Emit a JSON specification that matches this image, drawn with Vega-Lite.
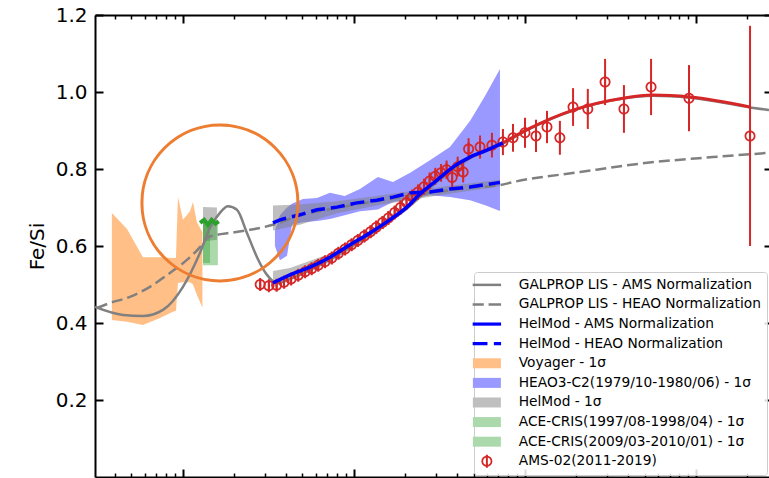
{
  "$schema": "https://vega.github.io/schema/vega-lite/v6.json",
  "width": 674,
  "height": 462,
  "autosize": {"type": "none"},
  "padding": {"left": 95, "top": 15, "right": 0, "bottom": 1},
  "config": {"view": {"stroke": null}, "font": "DejaVu Sans", "axis": {"grid": false}},
  "resolve": {"axis": {"x": "independent", "y": "independent"}},
  "layer": [
    {
      "data": {"values": [
        {"R": 0.384, "lo": 0.408, "hi": 0.686},
        {"R": 0.471, "lo": 0.403, "hi": 0.644},
        {"R": 0.583, "lo": 0.395, "hi": 0.571},
        {"R": 0.734, "lo": 0.413, "hi": 0.571},
        {"R": 0.874, "lo": 0.429, "hi": 0.569},
        {"R": 0.91, "lo": 0.432, "hi": 0.569},
        {"R": 0.935, "lo": 0.504, "hi": 0.727},
        {"R": 1.0, "lo": 0.506, "hi": 0.668},
        {"R": 1.1, "lo": 0.506, "hi": 0.69},
        {"R": 1.144, "lo": 0.5, "hi": 0.714},
        {"R": 1.207, "lo": 0.473, "hi": 0.662},
        {"R": 1.3, "lo": 0.44, "hi": 0.636}
      ]},
      "mark": {"type": "area", "color": "#ff7f0e", "opacity": 0.5, "clip": true},
      "encoding": {
        "x": {"field": "R", "type": "quantitative", "scale": {"type": "log", "domain": [0.306, 2672], "nice": false}, "axis": null},
        "y": {"field": "lo", "type": "quantitative", "scale": {"domain": [0, 1.2], "nice": false, "zero": false}, "axis": null},
        "y2": {"field": "hi"}
      }
    },
    {
      "data": {"values": [
        {"R": 3.45, "lo": 0.6, "hi": 0.64},
        {"R": 3.69, "lo": 0.563, "hi": 0.68},
        {"R": 4.06, "lo": 0.575, "hi": 0.7},
        {"R": 4.34, "lo": 0.655, "hi": 0.71},
        {"R": 5.03, "lo": 0.662, "hi": 0.722},
        {"R": 6.08, "lo": 0.665, "hi": 0.725},
        {"R": 7.24, "lo": 0.67, "hi": 0.738},
        {"R": 8.83, "lo": 0.68, "hi": 0.73},
        {"R": 10.83, "lo": 0.69, "hi": 0.748},
        {"R": 13.8, "lo": 0.695, "hi": 0.779},
        {"R": 16.9, "lo": 0.714, "hi": 0.766},
        {"R": 21.3, "lo": 0.722, "hi": 0.79},
        {"R": 27.8, "lo": 0.732, "hi": 0.823},
        {"R": 36.4, "lo": 0.727, "hi": 0.857},
        {"R": 47.7, "lo": 0.719, "hi": 0.925},
        {"R": 58.5, "lo": 0.706, "hi": 0.99},
        {"R": 71.4, "lo": 0.691, "hi": 1.06}
      ]},
      "mark": {"type": "area", "color": "#0000ff", "opacity": 0.4, "clip": true},
      "encoding": {
        "x": {"field": "R", "type": "quantitative", "scale": {"type": "log", "domain": [0.306, 2672], "nice": false}, "axis": null},
        "y": {"field": "lo", "type": "quantitative", "scale": {"domain": [0, 1.2], "nice": false, "zero": false}, "axis": null},
        "y2": {"field": "hi"}
      }
    },
    {
      "data": {"values": [
        {"part": "ace", "R": 1.31, "lo": 0.612, "hi": 0.701},
        {"part": "ace", "R": 1.58, "lo": 0.616, "hi": 0.7},
        {"part": "heao", "R": 3.36, "lo": 0.64, "hi": 0.705},
        {"part": "heao", "R": 4.83, "lo": 0.655, "hi": 0.708},
        {"part": "heao", "R": 7.95, "lo": 0.685, "hi": 0.716},
        {"part": "heao", "R": 13.6, "lo": 0.705, "hi": 0.73},
        {"part": "heao", "R": 27.8, "lo": 0.728, "hi": 0.75},
        {"part": "heao", "R": 71.4, "lo": 0.755, "hi": 0.772},
        {"part": "ams", "R": 3.36, "lo": 0.493, "hi": 0.535},
        {"part": "ams", "R": 4.22, "lo": 0.51, "hi": 0.543},
        {"part": "ams", "R": 7.24, "lo": 0.558, "hi": 0.58},
        {"part": "ams", "R": 12.4, "lo": 0.622, "hi": 0.64},
        {"part": "ams", "R": 20.4, "lo": 0.692, "hi": 0.708},
        {"part": "ams", "R": 30.6, "lo": 0.762, "hi": 0.776},
        {"part": "ams", "R": 47.7, "lo": 0.824, "hi": 0.836},
        {"part": "ams", "R": 74.3, "lo": 0.862, "hi": 0.874}
      ]},
      "mark": {"type": "area", "color": "#808080", "opacity": 0.5, "clip": true},
      "encoding": {
        "x": {"field": "R", "type": "quantitative", "scale": {"type": "log", "domain": [0.306, 2672], "nice": false}, "axis": null},
        "y": {"field": "lo", "type": "quantitative", "scale": {"domain": [0, 1.2], "nice": false, "zero": false}, "axis": null},
        "y2": {"field": "hi"},
        "detail": {"field": "part"}
      }
    },
    {
      "data": {"values": [
        {"part": "a", "R": 1.31, "lo": 0.556, "hi": 0.665},
        {"part": "a", "R": 1.44, "lo": 0.556, "hi": 0.665},
        {"part": "b", "R": 1.31, "lo": 0.55, "hi": 0.66},
        {"part": "b", "R": 1.6, "lo": 0.55, "hi": 0.66}
      ]},
      "mark": {"type": "area", "color": "#2ca02c", "opacity": 0.4, "clip": true},
      "encoding": {
        "x": {"field": "R", "type": "quantitative", "scale": {"type": "log", "domain": [0.306, 2672], "nice": false}, "axis": null},
        "y": {"field": "lo", "type": "quantitative", "scale": {"domain": [0, 1.2], "nice": false, "zero": false}, "axis": null},
        "y2": {"field": "hi"},
        "detail": {"field": "part"}
      }
    },
    {
      "data": {"values": [
        {"R": 0.306, "v": 0.442}, {"R": 0.446, "v": 0.421}, {"R": 0.583, "v": 0.418},
        {"R": 0.764, "v": 0.434}, {"R": 1.0, "v": 0.494}, {"R": 1.257, "v": 0.582},
        {"R": 1.438, "v": 0.647}, {"R": 1.645, "v": 0.686}, {"R": 1.833, "v": 0.703},
        {"R": 2.068, "v": 0.694}, {"R": 2.367, "v": 0.634}, {"R": 2.71, "v": 0.571},
        {"R": 3.1, "v": 0.525}, {"R": 3.54, "v": 0.504}, {"R": 4.22, "v": 0.515},
        {"R": 7.24, "v": 0.565}, {"R": 12.4, "v": 0.63}, {"R": 20.4, "v": 0.698},
        {"R": 30.6, "v": 0.768}, {"R": 47.7, "v": 0.829}, {"R": 74.3, "v": 0.866},
        {"R": 107, "v": 0.905}, {"R": 191, "v": 0.952}, {"R": 374, "v": 0.983},
        {"R": 561, "v": 0.99}, {"R": 922, "v": 0.985}, {"R": 2070, "v": 0.96},
        {"R": 2672, "v": 0.953}
      ]},
      "mark": {"type": "line", "color": "#808080", "strokeWidth": 2.5, "interpolate": "monotone", "clip": true},
      "encoding": {
        "x": {"field": "R", "type": "quantitative", "scale": {"type": "log", "domain": [0.306, 2672], "nice": false}, "axis": null},
        "y": {"field": "v", "type": "quantitative", "scale": {"domain": [0, 1.2], "nice": false, "zero": false}, "axis": null}
      }
    },
    {
      "data": {"values": [
        {"R": 0.314, "v": 0.439}, {"R": 0.374, "v": 0.452}, {"R": 0.49, "v": 0.468},
        {"R": 0.641, "v": 0.494}, {"R": 0.839, "v": 0.53}, {"R": 1.055, "v": 0.564},
        {"R": 1.257, "v": 0.597}, {"R": 1.381, "v": 0.621}, {"R": 1.58, "v": 0.629},
        {"R": 1.88, "v": 0.634}, {"R": 2.47, "v": 0.642}, {"R": 3.36, "v": 0.655},
        {"R": 4.83, "v": 0.679}, {"R": 7.95, "v": 0.699}, {"R": 13.6, "v": 0.717},
        {"R": 27.8, "v": 0.738}, {"R": 47.7, "v": 0.751}, {"R": 71.4, "v": 0.758},
        {"R": 85.1, "v": 0.766}, {"R": 210, "v": 0.792}, {"R": 517, "v": 0.816},
        {"R": 1257, "v": 0.831}, {"R": 2672, "v": 0.842}
      ]},
      "mark": {"type": "line", "color": "#808080", "strokeWidth": 2.5, "strokeDash": [11, 5], "interpolate": "monotone", "clip": true},
      "encoding": {
        "x": {"field": "R", "type": "quantitative", "scale": {"type": "log", "domain": [0.306, 2672], "nice": false}, "axis": null},
        "y": {"field": "v", "type": "quantitative", "scale": {"domain": [0, 1.2], "nice": false, "zero": false}, "axis": null}
      }
    },
    {
      "data": {"values": [
        {"R": 2.83, "lo": 0.488, "hi": 0.512}, {"R": 3.18, "lo": 0.485, "hi": 0.509},
        {"R": 3.53, "lo": 0.486, "hi": 0.51}, {"R": 3.9, "lo": 0.494, "hi": 0.518},
        {"R": 4.29, "lo": 0.502, "hi": 0.526}, {"R": 4.72, "lo": 0.511, "hi": 0.537},
        {"R": 5.18, "lo": 0.52, "hi": 0.546}, {"R": 5.66, "lo": 0.528, "hi": 0.554},
        {"R": 6.18, "lo": 0.537, "hi": 0.563}, {"R": 6.77, "lo": 0.545, "hi": 0.573},
        {"R": 7.42, "lo": 0.555, "hi": 0.583}, {"R": 8.11, "lo": 0.567, "hi": 0.595},
        {"R": 8.87, "lo": 0.577, "hi": 0.607}, {"R": 9.68, "lo": 0.588, "hi": 0.618},
        {"R": 10.54, "lo": 0.599, "hi": 0.629}, {"R": 11.5, "lo": 0.61, "hi": 0.642},
        {"R": 12.5, "lo": 0.621, "hi": 0.653}, {"R": 13.5, "lo": 0.632, "hi": 0.666},
        {"R": 14.7, "lo": 0.644, "hi": 0.678}, {"R": 15.9, "lo": 0.655, "hi": 0.691},
        {"R": 17.3, "lo": 0.669, "hi": 0.705}, {"R": 18.7, "lo": 0.681, "hi": 0.719},
        {"R": 20.3, "lo": 0.694, "hi": 0.732}, {"R": 21.9, "lo": 0.707, "hi": 0.747},
        {"R": 23.7, "lo": 0.72, "hi": 0.76}, {"R": 25.7, "lo": 0.733, "hi": 0.775},
        {"R": 27.7, "lo": 0.747, "hi": 0.791}, {"R": 29.9, "lo": 0.759, "hi": 0.803},
        {"R": 32.3, "lo": 0.767, "hi": 0.813}, {"R": 34.8, "lo": 0.774, "hi": 0.822},
        {"R": 37.5, "lo": 0.753, "hi": 0.803}, {"R": 40.4, "lo": 0.78, "hi": 0.832},
        {"R": 43.5, "lo": 0.765, "hi": 0.819}, {"R": 46.8, "lo": 0.824, "hi": 0.88},
        {"R": 54.6, "lo": 0.827, "hi": 0.887}, {"R": 64.1, "lo": 0.83, "hi": 0.894},
        {"R": 74.3, "lo": 0.836, "hi": 0.904}, {"R": 85.1, "lo": 0.845, "hi": 0.917},
        {"R": 100, "lo": 0.855, "hi": 0.933}, {"R": 116, "lo": 0.844, "hi": 0.928},
        {"R": 134.5, "lo": 0.867, "hi": 0.951}, {"R": 160, "lo": 0.837, "hi": 0.925},
        {"R": 191, "lo": 0.912, "hi": 1.01}, {"R": 233, "lo": 0.904, "hi": 1.008},
        {"R": 294, "lo": 0.966, "hi": 1.086}, {"R": 379, "lo": 0.894, "hi": 1.018},
        {"R": 546, "lo": 0.94, "hi": 1.086}, {"R": 910, "lo": 0.898, "hi": 1.07},
        {"R": 2070, "lo": 0.6, "hi": 1.172}
      ]},
      "mark": {"type": "rule", "color": "#d62728", "strokeWidth": 2, "clip": true},
      "encoding": {
        "x": {"field": "R", "type": "quantitative", "scale": {"type": "log", "domain": [0.306, 2672], "nice": false},
          "axis": {"orient": "bottom", "title": null, "labels": false, "grid": false,
            "values": [0.4, 0.5, 0.6, 0.7, 0.8, 0.9, 1, 2, 3, 4, 5, 6, 7, 8, 9, 10, 20, 30, 40, 50, 60, 70, 80, 90, 100, 200, 300, 400, 500, 600, 700, 800, 900, 1000, 2000],
            "domainColor": "#000000", "domainWidth": 2, "tickColor": "#000000",
            "tickSize": {"condition": {"test": "indexof([1,10,100,1000], datum.value) >= 0", "value": -8}, "value": -4},
            "tickWidth": {"condition": {"test": "indexof([1,10,100,1000], datum.value) >= 0", "value": 2}, "value": 1.5}}},
        "y": {"field": "lo", "type": "quantitative", "scale": {"domain": [0, 1.2], "nice": false, "zero": false},
          "axis": {"orient": "left", "values": [0.2, 0.4, 0.6, 0.8, 1.0, 1.2], "format": ".1f", "grid": false,
            "labelFont": "DejaVu Sans", "labelFontSize": 20, "labelColor": "#000000", "labelPadding": 16,
            "tickSize": -8, "tickWidth": 2, "tickColor": "#000000", "domainColor": "#000000", "domainWidth": 2,
            "title": "Fe/Si", "titleFont": "DejaVu Sans", "titleFontSize": 20, "titleFontWeight": "normal", "titleColor": "#000000", "titlePadding": 8}},
        "y2": {"field": "hi"}
      }
    },
    {
      "data": {"values": [
        {"series": "AMS-02(2011-2019)", "R": 2.83, "v": 0.5}, {"series": "AMS-02(2011-2019)", "R": 3.18, "v": 0.497},
        {"series": "AMS-02(2011-2019)", "R": 3.53, "v": 0.498}, {"series": "AMS-02(2011-2019)", "R": 3.9, "v": 0.506},
        {"series": "AMS-02(2011-2019)", "R": 4.29, "v": 0.514}, {"series": "AMS-02(2011-2019)", "R": 4.72, "v": 0.524},
        {"series": "AMS-02(2011-2019)", "R": 5.18, "v": 0.533}, {"series": "AMS-02(2011-2019)", "R": 5.66, "v": 0.541},
        {"series": "AMS-02(2011-2019)", "R": 6.18, "v": 0.55}, {"series": "AMS-02(2011-2019)", "R": 6.77, "v": 0.559},
        {"series": "AMS-02(2011-2019)", "R": 7.42, "v": 0.569}, {"series": "AMS-02(2011-2019)", "R": 8.11, "v": 0.581},
        {"series": "AMS-02(2011-2019)", "R": 8.87, "v": 0.592}, {"series": "AMS-02(2011-2019)", "R": 9.68, "v": 0.603},
        {"series": "AMS-02(2011-2019)", "R": 10.54, "v": 0.614}, {"series": "AMS-02(2011-2019)", "R": 11.5, "v": 0.626},
        {"series": "AMS-02(2011-2019)", "R": 12.5, "v": 0.637}, {"series": "AMS-02(2011-2019)", "R": 13.5, "v": 0.649},
        {"series": "AMS-02(2011-2019)", "R": 14.7, "v": 0.661}, {"series": "AMS-02(2011-2019)", "R": 15.9, "v": 0.673},
        {"series": "AMS-02(2011-2019)", "R": 17.3, "v": 0.687}, {"series": "AMS-02(2011-2019)", "R": 18.7, "v": 0.7},
        {"series": "AMS-02(2011-2019)", "R": 20.3, "v": 0.713}, {"series": "AMS-02(2011-2019)", "R": 21.9, "v": 0.727},
        {"series": "AMS-02(2011-2019)", "R": 23.7, "v": 0.74}, {"series": "AMS-02(2011-2019)", "R": 25.7, "v": 0.754},
        {"series": "AMS-02(2011-2019)", "R": 27.7, "v": 0.769}, {"series": "AMS-02(2011-2019)", "R": 29.9, "v": 0.781},
        {"series": "AMS-02(2011-2019)", "R": 32.3, "v": 0.79}, {"series": "AMS-02(2011-2019)", "R": 34.8, "v": 0.798},
        {"series": "AMS-02(2011-2019)", "R": 37.5, "v": 0.778}, {"series": "AMS-02(2011-2019)", "R": 40.4, "v": 0.806},
        {"series": "AMS-02(2011-2019)", "R": 43.5, "v": 0.792}, {"series": "AMS-02(2011-2019)", "R": 46.8, "v": 0.852},
        {"series": "AMS-02(2011-2019)", "R": 54.6, "v": 0.857}, {"series": "AMS-02(2011-2019)", "R": 64.1, "v": 0.862},
        {"series": "AMS-02(2011-2019)", "R": 74.3, "v": 0.87}, {"series": "AMS-02(2011-2019)", "R": 85.1, "v": 0.881},
        {"series": "AMS-02(2011-2019)", "R": 100, "v": 0.894}, {"series": "AMS-02(2011-2019)", "R": 116, "v": 0.886},
        {"series": "AMS-02(2011-2019)", "R": 134.5, "v": 0.909}, {"series": "AMS-02(2011-2019)", "R": 160, "v": 0.881},
        {"series": "AMS-02(2011-2019)", "R": 191, "v": 0.961}, {"series": "AMS-02(2011-2019)", "R": 233, "v": 0.956},
        {"series": "AMS-02(2011-2019)", "R": 294, "v": 1.026}, {"series": "AMS-02(2011-2019)", "R": 379, "v": 0.956},
        {"series": "AMS-02(2011-2019)", "R": 546, "v": 1.013}, {"series": "AMS-02(2011-2019)", "R": 910, "v": 0.984},
        {"series": "AMS-02(2011-2019)", "R": 2070, "v": 0.886}
      ]},
      "mark": {"type": "point", "filled": true, "size": 100, "opacity": 1, "strokeWidth": 0, "clip": true},
      "encoding": {
        "x": {"field": "R", "type": "quantitative", "scale": {"type": "log", "domain": [0.306, 2672], "nice": false},
          "axis": {"orient": "top", "title": null, "labels": false, "grid": false,
            "values": [0.4, 0.5, 0.6, 0.7, 0.8, 0.9, 1, 2, 3, 4, 5, 6, 7, 8, 9, 10, 20, 30, 40, 50, 60, 70, 80, 90, 100, 200, 300, 400, 500, 600, 700, 800, 900, 1000, 2000],
            "domainColor": "#000000", "domainWidth": 2, "tickColor": "#000000",
            "tickSize": {"condition": {"test": "indexof([1,10,100,1000], datum.value) >= 0", "value": -8}, "value": -4},
            "tickWidth": {"condition": {"test": "indexof([1,10,100,1000], datum.value) >= 0", "value": 2}, "value": 1.5}}},
        "y": {"field": "v", "type": "quantitative", "scale": {"domain": [0, 1.2], "nice": false, "zero": false},
          "axis": {"orient": "right", "values": [0.2, 0.4, 0.6, 0.8, 1.0, 1.2], "labels": false, "title": null, "grid": false,
            "domain": false, "tickSize": -5, "tickWidth": 2, "tickColor": "#000000"}},
        "color": {"field": "series", "type": "nominal",
          "scale": {"domain": ["GALPROP LIS - AMS Normalization", "GALPROP LIS - HEAO Normalization", "HelMod - AMS Normalization", "HelMod - HEAO Normalization", "Voyager - 1σ", "HEAO3-C2(1979/10-1980/06) - 1σ", "HelMod - 1σ", "ACE-CRIS(1997/08-1998/04) - 1σ", "ACE-CRIS(2009/03-2010/01) - 1σ", "AMS-02(2011-2019)"],
            "range": ["#808080", "#808080", "#0000ff", "#0000ff", "#ffbf87", "#9999ff", "#bfbfbf", "#abd9ab", "#abd9ab", "#d62728"]},
          "legend": {"title": null, "orient": "none", "legendX": 379, "legendY": 257, "padding": 6, "fillColor": "rgba(255,255,255,0.85)", "strokeColor": "#cccccc", "cornerRadius": 3,
            "labelFont": "DejaVu Sans", "labelFontSize": 13.75, "labelColor": "#000000", "labelLimit": 400, "labelOffset": 25,
            "symbolSize": 100, "symbolStrokeWidth": 0, "symbolOpacity": 1, "rowPadding": 4.6}},
        "shape": {"field": "series", "type": "nominal",
          "scale": {"domain": ["GALPROP LIS - AMS Normalization", "GALPROP LIS - HEAO Normalization", "HelMod - AMS Normalization", "HelMod - HEAO Normalization", "Voyager - 1σ", "HEAO3-C2(1979/10-1980/06) - 1σ", "HelMod - 1σ", "ACE-CRIS(1997/08-1998/04) - 1σ", "ACE-CRIS(2009/03-2010/01) - 1σ", "AMS-02(2011-2019)"],
            "range": [
              "M-2.84,-0.25H2.84V0.25H-2.84Z",
              "M-2.84,-0.25H-0.62V0.25H-2.84Z M0.34,-0.25H2.84V0.25H0.34Z",
              "M-2.84,-0.32H2.84V0.32H-2.84Z",
              "M-2.84,-0.32H0.12V0.32H-2.84Z M1.4,-0.32H2.84V0.32H1.4Z",
              "M-2.8,-1H2.8V1H-2.8Z",
              "M-2.8,-1H2.8V1H-2.8Z",
              "M-2.8,-1H2.8V1H-2.8Z",
              "M-2.8,-1H2.8V1H-2.8Z",
              "M-2.8,-1H2.8V1H-2.8Z",
              "M0,-1.1A1.1,1.1 0 1,1 0,1.1A1.1,1.1 0 1,1 0,-1.1Z M0,-0.75A0.75,0.75 0 1,0 0,0.75A0.75,0.75 0 1,0 0,-0.75Z M-0.2,-1.3H0.2V1.3H-0.2Z"
            ]},
          "legend": {"title": null, "orient": "none", "legendX": 379, "legendY": 257, "padding": 6, "fillColor": "rgba(255,255,255,0.85)", "strokeColor": "#cccccc", "cornerRadius": 3,
            "labelFont": "DejaVu Sans", "labelFontSize": 13.75, "labelColor": "#000000", "labelLimit": 400, "labelOffset": 25,
            "symbolSize": 100, "symbolStrokeWidth": 0, "symbolOpacity": 1, "rowPadding": 4.6}}
      }
    },
    {
      "data": {"values": [
        {"R": 3.36, "v": 0.504}, {"R": 4.22, "v": 0.525}, {"R": 5.53, "v": 0.545},
        {"R": 7.24, "v": 0.571}, {"R": 9.48, "v": 0.603}, {"R": 12.4, "v": 0.634},
        {"R": 16.2, "v": 0.668}, {"R": 20.4, "v": 0.701}, {"R": 24.3, "v": 0.735},
        {"R": 30.6, "v": 0.771}, {"R": 37.9, "v": 0.805}, {"R": 47.7, "v": 0.831},
        {"R": 59.9, "v": 0.849}, {"R": 74.3, "v": 0.868}
      ]},
      "mark": {"type": "line", "color": "#0000ff", "strokeWidth": 3.5, "interpolate": "monotone", "clip": true},
      "encoding": {
        "x": {"field": "R", "type": "quantitative", "scale": {"type": "log", "domain": [0.306, 2672], "nice": false}, "axis": null},
        "y": {"field": "v", "type": "quantitative", "scale": {"domain": [0, 1.2], "nice": false, "zero": false}, "axis": null}
      }
    },
    {
      "data": {"values": [
        {"R": 3.36, "v": 0.66}, {"R": 3.69, "v": 0.668}, {"R": 4.83, "v": 0.681},
        {"R": 6.08, "v": 0.694}, {"R": 7.95, "v": 0.701}, {"R": 10.4, "v": 0.712},
        {"R": 13.6, "v": 0.719}, {"R": 16.9, "v": 0.727}, {"R": 21.3, "v": 0.738},
        {"R": 27.8, "v": 0.74}, {"R": 36.4, "v": 0.748}, {"R": 47.7, "v": 0.753},
        {"R": 68.6, "v": 0.764}, {"R": 71.4, "v": 0.765}
      ]},
      "mark": {"type": "line", "color": "#0000ff", "strokeWidth": 3.5, "strokeDash": [14, 6], "clip": true},
      "encoding": {
        "x": {"field": "R", "type": "quantitative", "scale": {"type": "log", "domain": [0.306, 2672], "nice": false}, "axis": null},
        "y": {"field": "v", "type": "quantitative", "scale": {"domain": [0, 1.2], "nice": false, "zero": false}, "axis": null}
      }
    },
    {
      "data": {"values": [
        {"R": 74.3, "v": 0.868}, {"R": 107, "v": 0.906}, {"R": 191, "v": 0.953},
        {"R": 374, "v": 0.984}, {"R": 561, "v": 0.992}, {"R": 922, "v": 0.987},
        {"R": 2070, "v": 0.961}
      ]},
      "mark": {"type": "line", "color": "#d62728", "strokeWidth": 3, "interpolate": "monotone", "clip": true},
      "encoding": {
        "x": {"field": "R", "type": "quantitative", "scale": {"type": "log", "domain": [0.306, 2672], "nice": false}, "axis": null},
        "y": {"field": "v", "type": "quantitative", "scale": {"domain": [0, 1.2], "nice": false, "zero": false}, "axis": null}
      }
    },
    {
      "data": {"values": [
        {"R": 1.26, "v": 0.66}, {"R": 1.33, "v": 0.668}, {"R": 1.4, "v": 0.655},
        {"R": 1.47, "v": 0.668}, {"R": 1.55, "v": 0.658}, {"R": 1.62, "v": 0.664}
      ]},
      "mark": {"type": "line", "color": "#2ca02c", "strokeWidth": 4, "clip": true},
      "encoding": {
        "x": {"field": "R", "type": "quantitative", "scale": {"type": "log", "domain": [0.306, 2672], "nice": false}, "axis": null},
        "y": {"field": "v", "type": "quantitative", "scale": {"domain": [0, 1.2], "nice": false, "zero": false}, "axis": null}
      }
    },
    {
      "data": {"values": [{"R": 1.645, "v": 0.712}]},
      "mark": {"type": "point", "shape": "circle", "filled": false, "size": 24336, "color": "#ed7d31", "strokeWidth": 3, "opacity": 1},
      "encoding": {
        "x": {"field": "R", "type": "quantitative", "scale": {"type": "log", "domain": [0.306, 2672], "nice": false}, "axis": null},
        "y": {"field": "v", "type": "quantitative", "scale": {"domain": [0, 1.2], "nice": false, "zero": false}, "axis": null}
      }
    }
  ]
}
